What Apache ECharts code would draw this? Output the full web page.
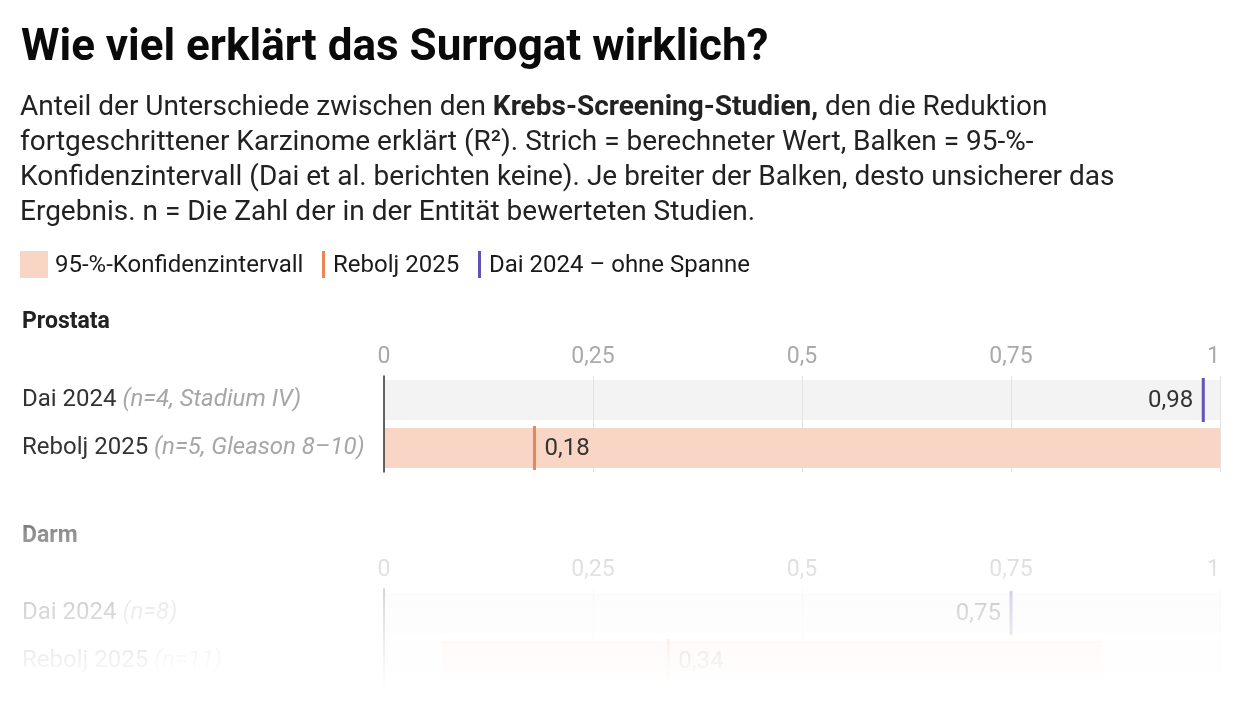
<!DOCTYPE html>
<html lang="de">
<head>
    <meta charset="UTF-8">
    <title>Wie viel erklärt das Surrogat wirklich?</title>
    <script src="https://cdn.jsdelivr.net/npm/echarts@6.0.0/dist/echarts.min.js"></script>
    <style>
        html, body { margin: 0; padding: 0; background: #fff; }
    </style>
</head>
<body>
    <div id="main" style="width: 1240px;height:716px;"></div>
    <script type="text/javascript">
        // Data
        const panels = ['Prostata', 'Darm'];
        const studies = ['Dai 2024', 'Rebolj 2025'];
        const prostataNotes = ['n=4, Stadium IV', 'n=5, Gleason 8–10'];
        const darmNotes = ['n=8', 'n=11'];
        const prostataValues = [0.98, 0.18];
        const prostataLow = [null, 0.0];
        const prostataHigh = [null, 1.0];
        const darmValues = [0.75, 0.34];
        const darmLow = [null, 0.07];
        const darmHigh = [null, 0.86];
        const xTicks = [0, 0.25, 0.5, 0.75, 1];

        const FONT = 'Roboto, "Noto Sans", sans-serif';
        const CI_COLOR = '#f9d5c6';
        const REBOLJ_COLOR = '#ec8459';
        const DAI_COLOR = '#6153b5';
        const BAR_H = 40;

        let myChart = echarts.init(document.getElementById('main'));

        function rows(values, low, high) {
            return values.map((v, i) => [i, low[i] == null ? '-' : low[i], high[i] == null ? '-' : high[i], v]);
        }

        // grey row background across the whole scale
        function renderBackground(params, api) {
            const row = api.value(0);
            const p0 = api.coord([xTicks[0], row]);
            const p1 = api.coord([xTicks[xTicks.length - 1], row]);
            return {
                type: 'rect',
                shape: { x: p0[0], y: p0[1] - BAR_H / 2, width: p1[0] - p0[0], height: BAR_H },
                style: { fill: '#f3f3f3' }
            };
        }

        // interval bar, value stroke and its label
        function renderRow(params, api) {
            const row = api.value(0);
            const lo = api.value(1), hi = api.value(2), val = api.value(3);
            const pv = api.coord([val, row]);
            const cy = pv[1];
            const isDai = row === 0;
            const children = [];
            if (!isNaN(lo) && !isNaN(hi)) {
                const a = api.coord([lo, row])[0];
                const b = api.coord([hi, row])[0];
                children.push({
                    type: 'rect',
                    shape: { x: a, y: cy - BAR_H / 2, width: b - a, height: BAR_H },
                    style: { fill: CI_COLOR }
                });
            }
            children.push({
                type: 'rect',
                shape: { x: pv[0] - 1.5, y: cy - BAR_H / 2 - 2, width: 3, height: BAR_H + 4 },
                style: { fill: isDai ? DAI_COLOR : REBOLJ_COLOR }
            });
            children.push({
                type: 'text',
                style: {
                    text: String(val).replace('.', ','),
                    x: isDai ? pv[0] - 10 : pv[0] + 10,
                    y: cy + 1,
                    align: isDai ? 'right' : 'left',
                    verticalAlign: 'middle',
                    fontFamily: FONT,
                    fontSize: 24,
                    fill: '#333'
                }
            });
            return { type: 'group', children: children };
        }

        function xAxisFor(gridIndex) {
            return {
                type: 'value', gridIndex: gridIndex, position: 'top',
                min: 0, max: 1, interval: 0.25, z: 3,
                axisLine: { show: false }, axisTick: { show: false },
                splitLine: { lineStyle: { color: '#e2e2e2', width: 1 } },
                axisLabel: {
                    margin: 7, color: '#aaa', fontFamily: FONT, fontSize: 23,
                    showMinLabel: true, showMaxLabel: true, alignMaxLabel: 'right',
                    formatter: v => String(v).replace('.', ',')
                }
            };
        }

        function yAxisFor(gridIndex, notes) {
            return {
                type: 'category', gridIndex: gridIndex, data: studies, inverse: true, z: 6,
                axisTick: { show: false },
                axisLine: { show: true, lineStyle: { color: '#333', width: 1.5 } },
                axisLabel: {
                    align: 'left', margin: 362, color: '#333', fontFamily: FONT, fontSize: 24,
                    formatter: (value, index) => value + ' {n|(' + notes[index] + ')}',
                    rich: { n: { fontStyle: 'italic', color: '#a6a6a6', fontFamily: FONT, fontSize: 24 } }
                }
            };
        }

        const textBase = { fontFamily: FONT, fill: '#1a1a1a' };

        let options = {
            animation: false,
            backgroundColor: '#fff',
            grid: [
                { left: 384, top: 376, width: 836, height: 96 },
                { left: 384, top: 589, width: 836, height: 96 }
            ],
            xAxis: [xAxisFor(0), xAxisFor(1)],
            yAxis: [yAxisFor(0, prostataNotes), yAxisFor(1, darmNotes)],
            series: [
                { type: 'custom', xAxisIndex: 0, yAxisIndex: 0, z: 1, renderItem: renderBackground, data: rows(prostataValues, prostataLow, prostataHigh) },
                { type: 'custom', xAxisIndex: 0, yAxisIndex: 0, z: 5, renderItem: renderRow, data: rows(prostataValues, prostataLow, prostataHigh) },
                { type: 'custom', xAxisIndex: 1, yAxisIndex: 1, z: 1, renderItem: renderBackground, data: rows(darmValues, darmLow, darmHigh) },
                { type: 'custom', xAxisIndex: 1, yAxisIndex: 1, z: 5, renderItem: renderRow, data: rows(darmValues, darmLow, darmHigh) }
            ],
            graphic: [
                { type: 'text', left: 21, top: 27, style: Object.assign({}, textBase, {
                    text: 'Wie viel erklärt das Surrogat wirklich?', fontSize: 44, fontWeight: 'bold', fill: '#0a0a0a' }) },
                { type: 'text', left: 20, top: 90, style: Object.assign({}, textBase, {
                    text: [
                        'Anteil der Unterschiede zwischen den {b|Krebs-Screening-Studien,} den die Reduktion',
                        'fortgeschrittener Karzinome erklärt (R²). Strich = berechneter Wert, Balken = 95-%-',
                        'Konfidenzintervall (Dai et al. berichten keine). Je breiter der Balken, desto unsicherer das',
                        'Ergebnis. n = Die Zahl der in der Entität bewerteten Studien.'
                    ].join('\n'),
                    fontSize: 28, lineHeight: 35, fill: '#222',
                    rich: { b: { fontWeight: 'bold', fontSize: 28, fontFamily: FONT, fill: '#222', lineHeight: 35 } }
                }) },
                // legend
                { type: 'rect', shape: { x: 20, y: 251, width: 28, height: 27 }, style: { fill: CI_COLOR } },
                { type: 'text', left: 55, top: 254, style: Object.assign({}, textBase, { text: '95-%-Konfidenzintervall', fontSize: 24 }) },
                { type: 'rect', shape: { x: 322, y: 251, width: 3, height: 27 }, style: { fill: REBOLJ_COLOR } },
                { type: 'text', left: 333, top: 254, style: Object.assign({}, textBase, { text: 'Rebolj 2025', fontSize: 24 }) },
                { type: 'rect', shape: { x: 478, y: 251, width: 3, height: 27 }, style: { fill: DAI_COLOR } },
                { type: 'text', left: 489, top: 254, style: Object.assign({}, textBase, { text: 'Dai 2024 – ohne Spanne', fontSize: 24 }) },
                // panel headings
                { type: 'text', left: 22, top: 311, style: Object.assign({}, textBase, { text: panels[0], fontSize: 23, fontWeight: 'bold', fill: '#222' }) },
                { type: 'text', left: 22, top: 525, style: Object.assign({}, textBase, { text: panels[1], fontSize: 23, fontWeight: 'bold', fill: '#222' }) },
                // fade-out of the lower panel
                {
                    type: 'rect', z: 100,
                    shape: { x: 0, y: 490, width: 1240, height: 226 },
                    style: {
                        fill: new echarts.graphic.LinearGradient(0, 0, 0, 1, [
                            { offset: 0, color: 'rgba(255,255,255,0)' },
                            { offset: 0.19, color: 'rgba(255,255,255,0.5)' },
                            { offset: 0.354, color: 'rgba(255,255,255,0.65)' },
                            { offset: 0.53, color: 'rgba(255,255,255,0.8)' },
                            { offset: 0.75, color: 'rgba(255,255,255,0.93)' },
                            { offset: 0.88, color: 'rgba(255,255,255,1)' },
                            { offset: 1, color: 'rgba(255,255,255,1)' }
                        ])
                    }
                }
            ]
        };

        myChart.setOption(options);
    </script>
</body>
</html>
